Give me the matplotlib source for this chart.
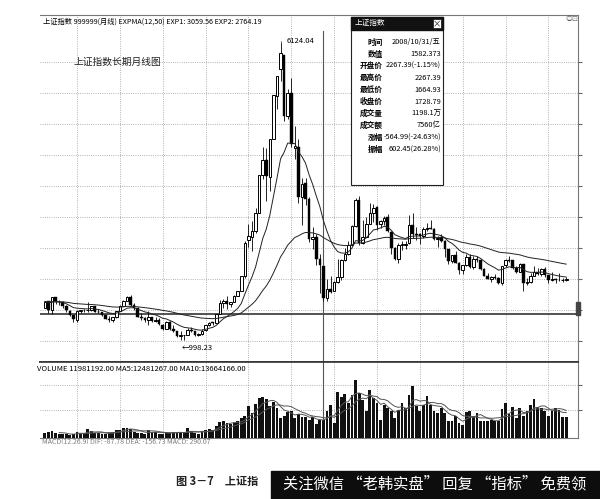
import numpy as np
import pandas as pd
import matplotlib
matplotlib.use("Agg")
import matplotlib.pyplot as plt
from matplotlib.patches import Rectangle

plt.rcParams["font.family"] = ["Noto Sans CJK SC", "DejaVu Sans"]
NARROW = ["Liberation Sans Narrow", "Noto Sans CJK SC", "DejaVu Sans"]

# monthly bars of the Shanghai index, 2002/04 .. 2014/06
opens = [
    1557, 1663, 1514, 1733, 1662, 1650, 1580, 1506, 1421,
    1347, 1500, 1513, 1510, 1520, 1577, 1486, 1477, 1421, 1367, 1349, 1397,
    1492, 1591, 1676, 1744, 1594, 1554, 1398, 1386, 1342, 1395, 1320, 1340,
    1261, 1190, 1307, 1180, 1158, 1060, 1079, 1084, 1163, 1153, 1091, 1099,
    1163, 1260, 1300, 1299, 1441, 1641, 1674, 1611, 1659, 1753, 1838, 2099,
    2728, 2773, 2883, 3196, 3846, 4100, 3816, 4468, 5217, 5683, 5915, 4868,
    5265, 4320, 4330, 3470, 3702, 3429, 2741, 2778, 2399, 2267.39, 1719, 1873,
    1849, 1996, 2081, 2374, 2477, 2633, 2964, 3412, 2680, 2780, 3002, 3195,
    3289, 2992, 3050, 3125, 2870, 2593, 2398, 2637, 2639, 2671, 2976, 2822,
    2826, 2798, 2906, 2937, 2912, 2744, 2767, 2703, 2563, 2360, 2470, 2331,
    2212, 2291, 2428, 2263, 2397, 2373, 2224, 2103, 2045, 2087, 2069, 1977,
    2289, 2383, 2370, 2238, 2178, 2301, 1979, 1993, 2101, 2175, 2140, 2221,
    2112, 2033, 2054, 2037, 2026, 2040,
]
highs = [
    1672, 1677, 1748, 1735, 1685, 1666, 1596, 1520, 1437,
    1521, 1520, 1528, 1650, 1576, 1580, 1530, 1480, 1426, 1405, 1400, 1502,
    1602, 1693, 1760, 1783, 1638, 1559, 1464, 1400, 1497, 1400, 1402, 1370,
    1268, 1329, 1326, 1255, 1161, 1147, 1084, 1208, 1224, 1160, 1114, 1180,
    1260, 1306, 1310, 1445, 1682, 1709, 1757, 1662, 1772, 1842, 2108, 2698,
    3000, 3050, 3274, 3848, 4335, 4312, 4472, 5232, 5562, 6124.04, 5915, 5336,
    5522, 4695, 4473, 3786, 3786, 3461, 2953, 2819, 2476, 2267.39, 2051, 2100,
    2015, 2403, 2402, 2579, 2700, 2985, 3454, 3478, 3068, 3123, 3361, 3339,
    3306, 3075, 3131, 3181, 2872, 2610, 2679, 2699, 2703, 3159, 3186, 2941,
    2839, 2943, 3013, 3067, 2926, 2785, 2827, 2726, 2576, 2473, 2536, 2340,
    2293, 2479, 2478, 2454, 2454, 2391, 2234, 2162, 2105, 2136, 2080, 2276,
    2394, 2445, 2371, 2278, 2334, 2316, 2068, 2149, 2270, 2242, 2243, 2260,
    2113, 2177, 2074, 2146, 2061, 2078,
]
lows = [
    1553, 1469, 1455, 1618, 1597, 1557, 1487, 1406, 1311,
    1311, 1460, 1476, 1480, 1493, 1480, 1470, 1414, 1358, 1307, 1316, 1379,
    1492, 1578, 1663, 1578, 1520, 1395, 1335, 1317, 1259, 1313, 1301, 1259,
    1177, 1182, 1172, 1136, 1043, 998.23, 1004, 1083, 1131, 1068, 1074, 1078,
    1152, 1245, 1250, 1298, 1440, 1545, 1541, 1559, 1651, 1749, 1836, 2072,
    2604, 2541, 2840, 3188, 3778, 3404, 3563, 4467, 4991, 5462, 4779, 4812,
    4330, 4123, 3358, 2991, 3333, 2692, 2566, 2284, 1802, 1664.93, 1678, 1814,
    1845, 1990, 2037, 2354, 2461, 2631, 2953, 2639, 2660, 2771, 3000, 3039,
    2890, 2936, 2982, 2862, 2481, 2382, 2319, 2554, 2573, 2653, 2764, 2722,
    2661, 2763, 2872, 2910, 2721, 2610, 2691, 2437, 2307, 2319, 2323, 2134,
    2132, 2271, 2242, 2228, 2341, 2204, 2094, 2047, 1999, 2059, 1960, 1949,
    2261, 2343, 2226, 2161, 2171, 1849, 1951, 1989, 2098, 2126, 2100, 2087,
    1984, 2020, 1974, 2014, 1991, 2011,
]
closes = [
    1661, 1516, 1732, 1669, 1650, 1582, 1507, 1422, 1358,
    1499, 1512, 1510, 1521, 1576, 1487, 1477, 1421, 1367, 1349, 1397, 1497,
    1590, 1675, 1742, 1595, 1555, 1399, 1386, 1342, 1396, 1321, 1341, 1267,
    1191, 1306, 1182, 1159, 1060, 1080, 1083, 1162, 1155, 1092, 1099, 1161,
    1258, 1299, 1298, 1440, 1641, 1672, 1612, 1658, 1752, 1837, 2099, 2675,
    2786, 2881, 3183, 3841, 4109, 3821, 4471, 5219, 5552, 5955, 4871, 5262,
    4383, 4348, 3473, 3693, 3433, 2736, 2776, 2397, 2293.78, 1728.79, 1871, 1821,
    1991, 2082, 2373, 2477, 2633, 2959, 3412, 2667, 2779, 2996, 3195, 3277,
    2989, 3051, 3110, 2871, 2593, 2398, 2638, 2639, 2656, 2979, 2820, 2808,
    2790, 2905, 2928, 2911, 2743, 2762, 2701, 2568, 2359, 2468, 2333, 2199,
    2292, 2428, 2263, 2397, 2373, 2225, 2103, 2048, 2086, 2069, 1980, 2269,
    2385, 2366, 2237, 2178, 2301, 1979, 1994, 2098, 2175, 2142, 2220, 2116,
    2033, 2056, 2033, 2026, 2039, 2048,
]
# volume in 万
volumes = [
    330, 400, 470, 330, 270, 270, 270, 200, 270,
    400, 270, 330, 600, 470, 330, 330, 270, 270, 330, 400, 530,
    530, 670, 670, 600, 400, 330, 330, 270, 530, 400, 400, 270,
    270, 400, 330, 400, 330, 400, 330, 670, 470, 330, 270, 470,
    530, 600, 530, 800, 1060, 1130, 1000, 930, 1000, 1130, 1330, 1460,
    2130, 1660, 2260, 2660, 2730, 2590, 2130, 2390, 2000, 1330, 1460, 1730,
    1800, 1330, 1600, 1400, 1400, 1200, 1400, 930, 1200, 1198.1, 1800, 2190,
    1000, 3060, 2730, 2930, 2330, 2860, 3860, 2990, 2530, 1800, 3190, 2660,
    2330, 1200, 2190, 2000, 1800, 1330, 1860, 2330, 2000, 2860, 3460, 2130,
    1800, 2190, 2790, 2190, 1800, 1660, 2000, 1660, 1130, 1130, 1460, 1000,
    860, 1730, 1800, 1460, 1660, 1130, 1130, 1130, 1200, 1130, 1130, 1930,
    2330, 1600, 2060, 1330, 1990, 1460, 1800, 2190, 2590, 2060, 2000, 1800,
    1460, 1800, 2000, 1860, 1400, 1400,
]
first_month = "2002-04"
cursor_month = "2008-10"

info_labels = ["时间", "数值", "开盘价", "最高价", "最低价", "收盘价", "成交量", "成交额", "涨幅", "振幅"]
info_values = ["2008/10/31/五", "1582.373", "2267.39(-1.15%)", "2267.39", "1664.93",
               "1728.79", "1198.1万", "7560亿", "-564.99(-24.63%)", "602.45(26.28%)"]

months = pd.period_range(first_month, periods=len(closes), freq="M")
idx = np.arange(len(closes))
o, h, l, c = map(np.array, (opens, highs, lows, closes))
vol = pd.Series(volumes)
ema12 = pd.Series(closes).ewm(span=12, adjust=False).mean()
ema50 = pd.Series(closes).ewm(span=50, adjust=False).mean()
cur = list(months.strftime("%Y-%m")).index(cursor_month)
jan = idx[months.month == 1]

W, H = 600, 499
fig = plt.figure(figsize=(6, 4.99), dpi=100)


def px_axes(left, top, right, bottom):
    return fig.add_axes([left / W, 1 - bottom / H, (right - left) / W, (bottom - top) / H])


def px_text(x, y, s, **kw):
    kw.setdefault("va", "center")
    return fig.text(x / W, 1 - y / H, s, **kw)


def px_rect(x0, y0, x1, y1, **kw):
    r = Rectangle((x0 / W, 1 - y1 / H), (x1 - x0) / W, (y1 - y0) / H,
                  transform=fig.transFigure, **kw)
    fig.add_artist(r)
    return r


xlim = (-1.37, 149.3)

# ---- price panel
ax = px_axes(40, 15, 578, 362)
ax.set_xlim(*xlim)
ax.set_ylim(618, 6607)
ax.set_xticks(jan)
ax.set_yticks(np.linspace(981, 5796, 10))
ax.grid(True, ls=":", color="#9a9a9a", lw=0.6)
ax.tick_params(left=False, bottom=False, labelleft=False, labelbottom=False,
               right=True, direction="out", length=3, color="#666")
ax.spines["left"].set_visible(False)
ax.spines["top"].set_color("#777")
ax.spines["right"].set_color("#777")
ax.spines["bottom"].set_color("#333")
ax.spines["bottom"].set_linewidth(1.2)

ax.axhline(1447, color="#444", lw=1.3, zorder=2)
ax.axvline(cur, ymax=0.955, color="#555", lw=0.8, zorder=2)

up = c >= o
ax.vlines(idx, l, h, color="black", lw=0.6, zorder=3)
body = np.maximum(np.abs(c - o), 10)
ax.bar(idx[up], body[up], bottom=np.minimum(o, c)[up], width=0.72,
       color="white", edgecolor="black", lw=0.7, zorder=4)
ax.bar(idx[~up], body[~up], bottom=np.minimum(o, c)[~up], width=0.72,
       color="black", edgecolor="black", lw=0.3, zorder=4)
ax.plot(idx, ema12, color="#222", lw=0.7, zorder=5)
ax.plot(idx, ema50, color="#222", lw=0.7, zorder=5)

peak = int(np.argmax(h))
low = int(np.argmin(l))
ax.annotate(f"{h[peak]:.2f}", xy=(peak, h[peak]), xytext=(peak + 1.6, h[peak] + 40),
            fontsize=5.5, va="center", family=NARROW,
            arrowprops=dict(arrowstyle="-", lw=0.5, color="#222",
                            connectionstyle="angle,angleA=0,angleB=90"))
ax.annotate(f"←{l[low]:.2f}", xy=(low + 0.2, 860), fontsize=5.5, va="center",
            family=NARROW)

# ---- volume panel
vax = px_axes(40, 362, 578, 438)
vax.set_xlim(*xlim)
vax.set_ylim(0, 5050)
vax.set_xticks(jan)
vax.set_yticks([1860, 3520])
vax.grid(True, ls=":", color="#9a9a9a", lw=0.6)
vax.tick_params(left=False, bottom=False, labelleft=False, labelbottom=False,
                right=True, direction="out", length=3, color="#666")
vax.spines["left"].set_visible(False)
vax.spines["top"].set_color("#333")
vax.spines["top"].set_linewidth(1.2)
vax.spines["right"].set_color("#777")
vax.spines["bottom"].set_color("#777")
vax.bar(idx, vol, width=0.78, color="#111", zorder=3)
vax.plot(idx, vol.rolling(5).mean(), color="#555", lw=0.7, zorder=4)
vax.plot(idx, vol.rolling(10).mean(), color="#555", lw=0.7, zorder=4)
vax.axvline(cur, color="#555", lw=0.8, zorder=2)

# ---- texts
px_text(43, 22, "上证指数 999999(月线) EXPMA(12,50) EXP1: 3059.56 EXP2: 2764.19",
        fontsize=5.2, family=NARROW)
px_text(73, 62, "上证指数长期月线图", fontsize=7, color="#222")
px_text(37, 369, "VOLUME 11981192.00 MA5:12481267.00 MA10:13664166.00",
        fontsize=5.5, family=NARROW)
px_text(42, 443, "MACD(12,26,9) DIF: -87.78 DEA: -156.73 MACD: 290.07",
        fontsize=5, color="#777", family=NARROW)
px_rect(30, 443.5, 260, 452, color="white", zorder=10)
px_text(566, 19, "◎⊡", fontsize=5, color="#666")
px_rect(576, 302, 580, 315, color="#444", zorder=10)

# ---- info box
px_rect(351, 17, 443, 185, facecolor="white", edgecolor="#222", lw=0.8, zorder=10)
px_rect(351, 17, 443, 30, color="#111", zorder=11)
px_text(355, 23.5, "上证指数", fontsize=5.5, color="white", zorder=12)
px_rect(433, 19.5, 441, 27.5, facecolor="white", edgecolor="#111", lw=0.5, zorder=12)
px_text(437, 23.5, "×", fontsize=6, color="#111", ha="center", zorder=13)
for k, (lab, val) in enumerate(zip(info_labels, info_values)):
    y = 42 + k * 11.9
    px_text(383, y, lab, fontsize=5.5, ha="right", weight="bold", zorder=12)
    px_text(441, y, val, fontsize=5.3, ha="right", zorder=12, family=NARROW)

# ---- caption (partly hidden by the black banner, as in the scan)
px_text(176, 481, "图 3－7　上证指", fontsize=8, weight="bold", color="#222")
px_rect(271, 471, 600, 499, color="#0d0d0d", zorder=10)
px_text(435, 484, "关注微信 “老韩实盘” 回复 “指标” 免费领", fontsize=11,
        color="white", ha="center", zorder=11)

fig.savefig("out.png", dpi=100)
